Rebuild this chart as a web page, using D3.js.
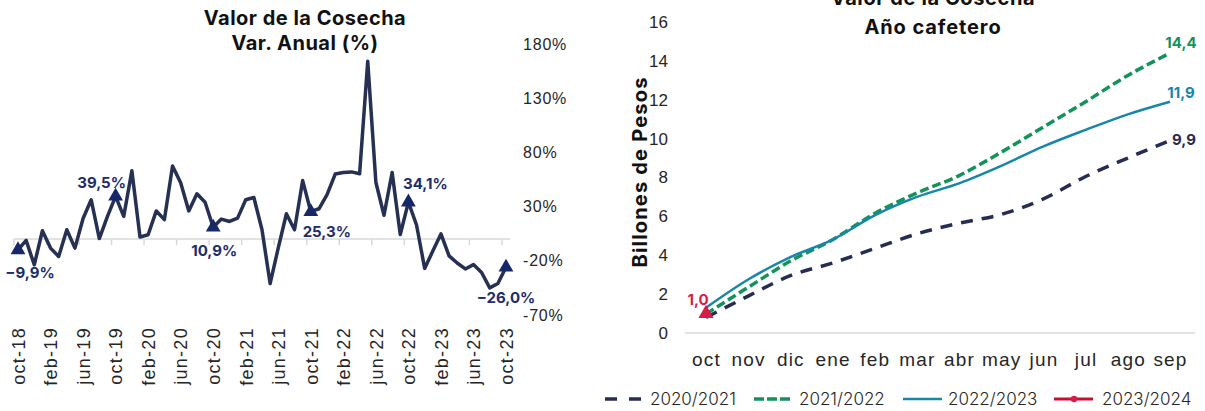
<!DOCTYPE html>
<html>
<head>
<meta charset="utf-8">
<script src="https://cdn.jsdelivr.net/npm/d3@7"></script>
<style>
  body { margin: 0; background: #fff; }
  svg { display: block; font-family: Inter, "Open Sans", sans-serif; }
  .tick-lbl { font-weight: 300; fill: #262626; }
  .bold { font-weight: 700; }
</style>
</head>
<body>
<script>
    // ---- data: variación anual (%) oct-18 .. oct-23
    var mesesAbrev = ["ene","feb","mar","abr","may","jun","jul","ago","sep","oct","nov","dic"];
    var varAnual = [-9.9, -1.2, -23.7, 7.7, -8.3, -16, 8.6, -8.3, 19, 36.3,
                    0.5, 21, 39.5, 21, 63, 2, 4, 26, 18, 67.5,
                    52, 26, 41.8, 34, 10.9, 18.5, 16.3, 19.4, 36.3, 38.4,
                    8.6, -41, -8, 23.4, 8.6, 54, 25.3, 28, 41, 60,
                    61.5, 62, 60.3, 164, 52.5, 22, 61.5, 4.3, 34.1, 13,
                    -27, -11, 4.8, -15.4, -22, -27.5, -23.5, -30.8, -45, -41,
                    -26.0];
    var yTicksVar = [-70, -20, 30, 80, 130, 180];
    var marcadosVar = [0, 12, 24, 36, 48, 60];   // octubres con etiqueta

    // ---- data: valor acumulado por año cafetero (billones de pesos)
    var mesesCafe = ["oct","nov","dic","ene","feb","mar","abr","may","jun","jul","ago","sep"];
    var serie2021 = [0.8, 1.9, 2.95, 3.6, 4.35, 5.1, 5.65, 6.1, 6.9, 8.05, 9.0, 9.9];
    var serie2122 = [0.98, 2.35, 3.7, 4.8, 6.15, 7.2, 8.1, 9.3, 10.6, 11.9, 13.25, 14.4];
    var serie2223 = [1.3, 2.75, 3.9, 4.8, 6.05, 7.0, 7.7, 8.6, 9.6, 10.45, 11.25, 11.9];
    var serie2324 = [1.0];
    var yTicksCafe = [0, 2, 4, 6, 8, 10, 12, 14, 16];

    var W = 1205, H = 411;
    var svg = d3.select("body").append("svg")
        .attr("width", W).attr("height", H);

    // month labels oct-18 ... oct-23
    var fechas = varAnual.map(function (d, i) {
        var m = 9 + i;
        return mesesAbrev[m % 12] + "-" + (18 + Math.floor(m / 12));
    });

    // ================= left chart =================
    var left = svg.append("g");
    var xL = d3.scalePoint().domain(fechas).range([18, 506]);
    var yL = d3.scaleLinear().domain([-70, 180]).range([315, 44]);
    var stepL = xL.step();

    left.append("text").attr("class", "bold").attr("x", 305).attr("y", 25)
        .attr("text-anchor", "middle").attr("font-size", 20).attr("letter-spacing", 0.5)
        .attr("fill", "#111")
        .text("Valor de la Cosecha");
    left.append("text").attr("class", "bold").attr("x", 305).attr("y", 50)
        .attr("text-anchor", "middle").attr("font-size", 20).attr("letter-spacing", 0.5)
        .attr("fill", "#111")
        .text("Var. Anual (%)");

    // zero line + category ticks
    left.append("line")
        .attr("x1", xL(fechas[0]) - stepL / 2).attr("x2", xL(fechas[60]) + stepL / 2)
        .attr("y1", yL(0)).attr("y2", yL(0))
        .attr("stroke", "#d9d9d9").attr("stroke-width", 1.5);
    left.selectAll(".cat-tick")
        .data(fechas.filter(function (d, i) { return i % 4 === 0; }))
        .join("line")
        .attr("class", "cat-tick")
        .attr("x1", function (d) { return xL(d) - stepL / 2; })
        .attr("x2", function (d) { return xL(d) - stepL / 2; })
        .attr("y1", yL(0)).attr("y2", yL(0) + 6)
        .attr("stroke", "#d9d9d9").attr("stroke-width", 1.5);

    var yAxisL = left.append("g")
        .attr("transform", "translate(523,0)")
        .call(d3.axisRight(yL).tickValues(yTicksVar).tickSize(0).tickPadding(0)
            .tickFormat(function (d) { return d + "%"; }));
    yAxisL.select(".domain").remove();
    yAxisL.selectAll("text").attr("class", "tick-lbl").attr("font-size", 16)
        .attr("letter-spacing", 0.8).attr("font-family", null);

    var xAxisL = left.append("g")
        .attr("transform", "translate(0,327)")
        .call(d3.axisBottom(xL).tickValues(fechas.filter(function (d, i) { return i % 4 === 0; }))
            .tickSize(0));
    xAxisL.select(".domain").remove();
    xAxisL.selectAll("text")
        .attr("class", "tick-lbl").attr("font-size", 18).attr("font-family", null)
        .attr("letter-spacing", 1.3)
        .attr("x", 0).attr("y", 0).attr("dy", "0.35em")
        .attr("text-anchor", "end").attr("transform", "rotate(-90)");

    var lineL = d3.line()
        .x(function (d, i) { return xL(fechas[i]); })
        .y(function (d) { return yL(d); });
    left.append("path").datum(varAnual)
        .attr("d", lineL).attr("fill", "none")
        .attr("stroke", "#263052").attr("stroke-width", 3.5)
        .attr("stroke-linejoin", "round");

    var tri = d3.symbol(d3.symbolTriangle, 95);
    left.selectAll(".mk").data(marcadosVar).join("path")
        .attr("class", "mk")
        .attr("d", tri)
        .attr("transform", function (i) { return "translate(" + xL(fechas[i]) + "," + yL(varAnual[i]) + ")"; })
        .attr("fill", "#16286a");

    // label offsets (dx, dy) relative to the point
    var offVar = {0: [12, 23], 12: [-14, -14], 24: [1, 23], 36: [16, 20], 48: [17, -18], 60: [0, 30]};
    left.selectAll(".lbl").data(marcadosVar).join("text")
        .attr("class", "lbl bold")
        .attr("x", function (i) { return xL(fechas[i]) + offVar[i][0]; })
        .attr("y", function (i) { return yL(varAnual[i]) + offVar[i][1]; })
        .attr("dy", "0.35em")
        .attr("text-anchor", "middle").attr("font-size", 15).attr("fill", "#1c2d6c")
        .text(function (i) { return d3.format(".1f")(varAnual[i]).replace(".", ",") + "%"; });

    // ================= right chart =================
    var right = svg.append("g");
    var xR = d3.scalePoint().domain(mesesCafe).range([706, 1170]);
    var yR = d3.scaleLinear().domain([0, 16]).range([333, 22]);

    right.append("text").attr("class", "bold").attr("x", 933).attr("y", 5)
        .attr("text-anchor", "middle").attr("font-size", 20).attr("letter-spacing", 0.6)
        .attr("fill", "#111")
        .text("Valor de la Cosecha");
    right.append("text").attr("class", "bold").attr("x", 933).attr("y", 34)
        .attr("text-anchor", "middle").attr("font-size", 20).attr("letter-spacing", 0.9)
        .attr("fill", "#111")
        .text("Año cafetero");

    right.append("line")
        .attr("x1", 685).attr("x2", 1195).attr("y1", yR(0)).attr("y2", yR(0))
        .attr("stroke", "#d9d9d9").attr("stroke-width", 1.5);

    var yAxisR = right.append("g")
        .attr("transform", "translate(668,0)")
        .call(d3.axisLeft(yR).tickValues(yTicksCafe).tickSize(0).tickPadding(0));
    yAxisR.select(".domain").remove();
    yAxisR.selectAll("text").attr("class", "tick-lbl").attr("font-size", 17)
        .attr("font-family", null);

    var xAxisR = right.append("g")
        .attr("transform", "translate(0," + yR(0) + ")")
        .call(d3.axisBottom(xR).tickSize(0));
    xAxisR.select(".domain").remove();
    xAxisR.selectAll("text").attr("class", "tick-lbl").attr("font-size", 19)
        .attr("letter-spacing", 1.2)
        .attr("font-family", null).attr("y", 33).attr("dy", 0);

    right.append("text").attr("class", "bold")
        .attr("transform", "translate(647,172) rotate(-90)")
        .attr("text-anchor", "middle").attr("font-size", 20).attr("letter-spacing", 1.2)
        .attr("fill", "#111")
        .text("Billones de Pesos");

    var lineR = d3.line()
        .x(function (d, i) { return xR(mesesCafe[i]); })
        .y(function (d) { return yR(d); })
        .curve(d3.curveMonotoneX);

    var series = [
        {name: "2020/2021", values: serie2021, color: "#262d50", width: 3.5, dash: "12,9"},
        {name: "2021/2022", values: serie2122, color: "#13925a", width: 3.5, dash: "9,4"},
        {name: "2022/2023", values: serie2223, color: "#1886a8", width: 2.5, dash: null},
        {name: "2023/2024", values: serie2324, color: "#c8102e", width: 3, dash: null}
    ];

    right.selectAll(".serie").data(series.slice(0, 3)).join("path")
        .attr("class", "serie")
        .attr("d", function (s) { return lineR(s.values); })
        .attr("fill", "none")
        .attr("stroke", function (s) { return s.color; })
        .attr("stroke-width", function (s) { return s.width; })
        .attr("stroke-dasharray", function (s) { return s.dash; });

    // 2023/2024: only october so far
    right.append("path")
        .attr("d", d3.symbol(d3.symbolTriangle, 100))
        .attr("transform", "translate(" + xR("oct") + "," + yR(serie2324[0]) + ")")
        .attr("fill", "#d61c48");
    right.append("text").attr("class", "bold")
        .attr("x", xR("oct") - 8).attr("y", yR(serie2324[0]) - 9)
        .attr("text-anchor", "middle").attr("font-size", 15).attr("fill", "#d61c48")
        .text(d3.format(".1f")(serie2324[0]).replace(".", ","));

    // end-of-year labels
    var endLbl = [
        {values: serie2122, color: "#13925a", dx: 11, dy: -5},
        {values: serie2223, color: "#1886a8", dx: 11, dy: -4},
        {values: serie2021, color: "#262d50", dx: 14, dy: 4}
    ];
    right.selectAll(".end").data(endLbl).join("text")
        .attr("class", "end bold")
        .attr("x", function (d) { return xR("sep") + d.dx; })
        .attr("y", function (d) { return yR(d.values[d.values.length - 1]) + d.dy; })
        .attr("text-anchor", "middle").attr("font-size", 15)
        .attr("fill", function (d) { return d.color; })
        .text(function (d) { return d3.format(".1f")(d.values[d.values.length - 1]).replace(".", ","); });

    // legend
    var legX = [605, 754, 903, 1054];
    var leg = svg.selectAll(".leg").data(series).join("g")
        .attr("class", "leg")
        .attr("transform", function (d, i) { return "translate(" + legX[i] + ",399)"; });
    leg.append("line")
        .attr("x1", 0).attr("x2", function (d, i) { return i < 2 ? 37 : 39; })
        .attr("stroke", function (d) { return d.color; })
        .attr("stroke-width", function (d) { return d.width; })
        .attr("stroke-dasharray", function (d, i) { return i === 0 ? "12,12" : i === 1 ? "10,3" : null; });
    leg.filter(function (d, i) { return i === 3; }).append("circle")
        .attr("cx", 20).attr("r", 3.2).attr("fill", "#d61c48");
    leg.append("text")
        .attr("class", "tick-lbl")
        .attr("x", function (d, i) { return i === 3 ? 48 : 45; })
        .attr("dy", "0.35em").attr("font-size", 17)
        .text(function (d) { return d.name; });
</script>
</body>
</html>
